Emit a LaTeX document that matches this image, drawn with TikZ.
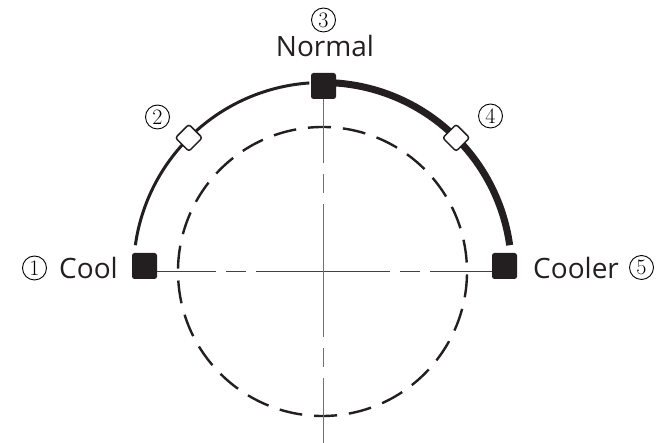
\documentclass[tikz,border=0pt]{standalone}
\usepackage{fontspec}
\setsansfont{Open Sans}
\usetikzlibrary{calc}
\definecolor{ink}{HTML}{231F20}
\definecolor{axisgray}{HTML}{707070}
\begin{document}
\begin{tikzpicture}[x=1pt,y=1pt,
  sq/.style={draw=none, fill=ink, minimum width=25pt, minimum height=26pt, rounded corners=2.5pt, inner sep=0pt},
  dia/.style={draw=ink, line width=1.5pt, fill=white, minimum size=19pt, rounded corners=2.5pt, rotate=45, inner sep=0pt},
  num/.style={circle, draw=black, line width=0.9pt, minimum size=24pt, inner sep=0pt, font=\fontsize{22}{22}\selectfont},
  lbl/.style={font=\sffamily\fontsize{28}{28}\selectfont, inner sep=0pt, text=ink},
  arcthin/.style={draw=ink, line width=3pt},
  arcthick/.style={draw=ink, line width=7pt},
  dashcircle/.style={draw=ink, line width=2.4pt, dash pattern=on 23pt off 11.92pt},
  haxis/.style={draw=ink!85, line width=1.3pt, dash pattern=on 134pt off 10pt on 20pt off 10pt, dash phase=75pt},
  vaxis/.style={draw=axisgray, line width=1.4pt, dash pattern=on 133pt off 11pt on 19pt off 11pt, dash phase=69pt}
]
\useasboundingbox (0,0) rectangle (660,443);
\coordinate (C) at (322.5,171.5);
\coordinate (bottom) at (323.5,0);

% dashed circle
\draw[dashcircle] (C) ++(95.76:144.5) arc[start angle=95.76, end angle=-264.24, radius=144.5];

% outer arcs
\draw[arcthin] (C) ++(172:189) arc[start angle=172, end angle=94, radius=189];
\draw[arcthick] (C) ++(86:189) arc[start angle=86, end angle=8, radius=189];

% squares
\node[sq] (cool) at (144.5,177) {};
\node[sq] (cooler) at (504.5,177) {};
\node[sq] (normal) at (323.5,357) {};

% axes
\draw[haxis] (cool.east |- C) -- (cooler.west |- C);
\draw[vaxis] (normal.south) -- (normal.south |- bottom);

% diamonds
\node[dia] (d2) at ($(C)+(135:189)$) {};
\node[dia] (d4) at ($(C)+(45:189)$) {};

% labels
\node[lbl, anchor=base east] (coolt) at (118,164.5) {Cool};
\node[lbl, anchor=base west] (coolert) at (533,164.5) {Cooler};
\node[lbl, anchor=base] (normalt) at (325,386) {Normal};

% circled numbers
\node[num] (n1) at (34.5,175) {1};
\node[num] (n2) at (157.5,326) {2};
\node[num] (n3) at (323.5,423) {3};
\node[num] (n4) at (490.5,327) {4};
\node[num] (n5) at (641.5,175.5) {5};
\end{tikzpicture}
\end{document}
